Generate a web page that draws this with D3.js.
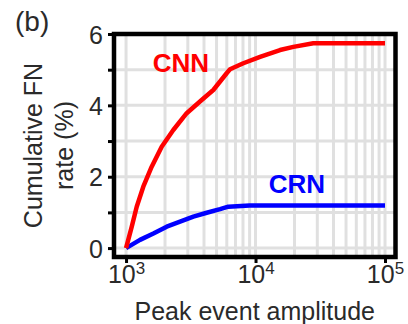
<!DOCTYPE html>
<html>
<head>
<meta charset="utf-8">
<script src="https://cdn.jsdelivr.net/npm/d3@7/dist/d3.min.js"></script>
<style>
  html, body { margin: 0; padding: 0; background: #fff; }
  svg { display: block; font-family: "Liberation Sans", Arial, sans-serif; }
</style>
</head>
<body>
<svg id="chart" width="408" height="324"></svg>
<script>
// ---- Data ----
const cnnAmplitude = [1000, 1107, 1209, 1359, 1578, 1885, 2317, 2940, 3838, 4720, 5984, 6353, 8054, 10840, 15460, 19600, 27930, 100000];
const cnnRate      = [0,    0.60, 1.16, 1.72, 2.28, 2.84, 3.31, 3.78, 4.15, 4.43, 4.90, 5.01, 5.18, 5.36,  5.55,  5.64,  5.74,  5.74];
const crnAmplitude = [1000, 1282, 1626, 2061, 2612, 3311, 4198, 5321, 6166, 9000, 100000];
const crnRate      = [0,    0.23, 0.41, 0.60, 0.74, 0.88, 0.99, 1.09, 1.16, 1.19, 1.19];
const yTicks = [0, 1, 2, 3, 4, 5, 6];
const yTickLabels = ["0", "", "2", "", "4", "", "6"];
const xTicks = [1e3, 1e4, 1e5];
const xTickExponents = ["3", "4", "5"];
const seriesNames = ["CNN", "CRN"];

// ---- Layout ----
const svg = d3.select("#chart");
const pLeft = 114, pRight = 395.5, pTop = 34, pBottom = 257;
const textColor = "#2a2a2a";

const x = d3.scaleLog().domain([Math.pow(10, 2.907), Math.pow(10, 5.081)]).range([pLeft, pRight]);
const y = d3.scaleLinear().domain([-0.25, 6]).range([pBottom, pTop]);

// grid
const gridX = [];
for (let e = 3; e <= 4; e++) for (let k = 1; k <= 9; k++) gridX.push(k * Math.pow(10, e));
gridX.push(1e5);
const gridY = [0, 1, 2, 3, 4, 5];

svg.append("g").selectAll("line").data(gridX).join("line")
  .attr("x1", d => x(d)).attr("x2", d => x(d))
  .attr("y1", pTop).attr("y2", pBottom)
  .attr("stroke", "#e0e0e0").attr("stroke-width", 3);
svg.append("g").selectAll("line").data(gridY).join("line")
  .attr("x1", pLeft).attr("x2", pRight)
  .attr("y1", d => y(d)).attr("y2", d => y(d))
  .attr("stroke", "#e0e0e0").attr("stroke-width", 3);

// curves
const line = d3.line().x(d => x(d[0])).y(d => y(d[1]));
const cnn = cnnAmplitude.map((a, i) => [a, cnnRate[i]]);
const crn = crnAmplitude.map((a, i) => [a, crnRate[i]]);
svg.append("path").datum(crn).attr("d", line)
  .attr("fill", "none").attr("stroke", "#0000ff").attr("stroke-width", 4.5).attr("stroke-linejoin", "round");
svg.append("path").datum(cnn).attr("d", line)
  .attr("fill", "none").attr("stroke", "#ff0000").attr("stroke-width", 4.5).attr("stroke-linejoin", "round");

// frame
svg.append("rect").attr("x", pLeft).attr("y", pTop)
  .attr("width", pRight - pLeft).attr("height", pBottom - pTop)
  .attr("fill", "none").attr("stroke", "#000").attr("stroke-width", 4.5);

// y axis
const yAxis = d3.axisLeft(y).tickValues(yTicks).tickSize(4).tickPadding(5)
  .tickFormat((d, i) => yTickLabels[i]);
const gy = svg.append("g").attr("transform", `translate(${pLeft - 2},0)`).call(yAxis);
gy.select(".domain").remove();
gy.selectAll(".tick line").attr("stroke", "#000").attr("stroke-width", 3);
gy.selectAll(".tick text").attr("font-size", 25).attr("fill", textColor)
  .attr("font-family", "Liberation Sans, Arial, sans-serif").attr("dy", "0.36em");

// x axis
const xAxis = d3.axisBottom(x).tickValues(xTicks).tickSize(4).tickFormat("");
const gx = svg.append("g").attr("transform", `translate(0,${pBottom + 2})`).call(xAxis);
gx.select(".domain").remove();
gx.selectAll(".tick line").attr("stroke", "#000").attr("stroke-width", 3);
gx.selectAll(".tick").each(function(d, i) {
  const t = d3.select(this).append("text")
    .attr("y", 24).attr("text-anchor", "middle")
    .attr("fill", textColor).attr("font-size", 25)
    .attr("font-family", "Liberation Sans, Arial, sans-serif");
  t.append("tspan").text("10");
  t.append("tspan").attr("font-size", 17).attr("dy", -9).text(xTickExponents[i]);
});

// axis titles
svg.append("text").attr("x", (pLeft + pRight) / 2).attr("y", 320)
  .attr("text-anchor", "middle").attr("font-size", 25).attr("fill", textColor)
  .text("Peak event amplitude");
const yl = svg.append("text").attr("transform", `translate(0,${(pTop + pBottom) / 2}) rotate(-90)`)
  .attr("text-anchor", "middle").attr("font-size", 25).attr("fill", textColor);
yl.append("tspan").attr("x", 0).attr("y", 42).text("Cumulative FN");
yl.append("tspan").attr("x", 0).attr("y", 73).text("rate (%)");

// series labels
svg.append("text").attr("x", x(2655)).attr("y", y(4.94)).attr("text-anchor", "middle")
  .attr("font-size", 26).attr("font-weight", "bold").attr("fill", "#ff0000").text(seriesNames[0]);
svg.append("text").attr("x", x(20900)).attr("y", y(1.54)).attr("text-anchor", "middle")
  .attr("font-size", 26).attr("font-weight", "bold").attr("fill", "#0000ff").text(seriesNames[1]);

// panel label
svg.append("text").attr("x", 15).attr("y", 31).attr("font-size", 28).attr("fill", textColor).text("(b)");
</script>
</body>
</html>
